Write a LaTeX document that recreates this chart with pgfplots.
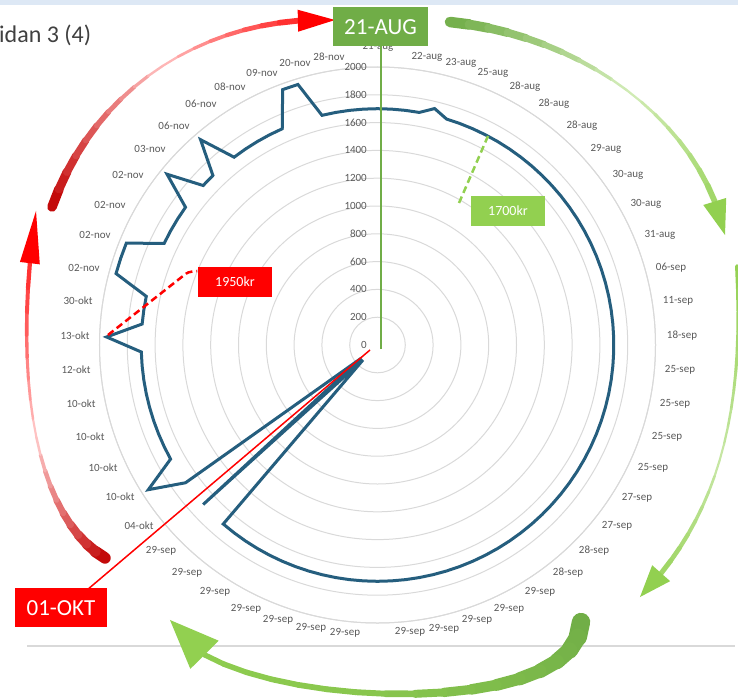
\documentclass[border=0pt]{standalone}
\usepackage{pgfplots}
\usepackage{pgfplotstable}
\pgfplotsset{compat=1.18}
\usepgfplotslibrary{polar}
\usetikzlibrary{arrows.meta,calc}
\usepackage{fontspec}
\setmainfont{Carlito}

\definecolor{lineblue}{RGB}{37,94,126}
\definecolor{gridgray}{RGB}{217,217,217}
\definecolor{txtgray}{RGB}{89,89,89}
\definecolor{dgreen}{RGB}{112,173,71}
\definecolor{lgreen}{RGB}{146,208,80}
\definecolor{dred}{RGB}{192,0,0}
\definecolor{band}{RGB}{221,232,245}
\colorlet{midredA}{red!25}
\colorlet{midredB}{red!20}
\colorlet{midgreenA}{lgreen!40}
\colorlet{midgreenB}{lgreen!50}
\colorlet{midgreenC}{lgreen!70!dgreen}

% sample a bezier into q0..q20
\newcommand\sample[4]{\path #1 .. controls #2 and #3 .. #4
  \foreach \t [evaluate=\t as \p using \t*0.05] in {0,...,20}{coordinate[pos=\p] (q\t)};}
% tapered stroke along q0..q#7: widths #1/#2/#3, colours #4/#5/#6
\newcommand\taper[7]{%
  \foreach \t [remember=\t as \s (initially 0)] in {1,...,#7}{%
    \ifnum\t<11
      \pgfmathsetmacro\w{#1+(#2-#1)*(\t-0.5)/10}%
      \pgfmathsetmacro\m{100-(\t-0.5)*10}%
      \draw[line width=\w pt,color=#4!\m!#5,line cap=round] (q\s) -- (q\t);
    \else
      \pgfmathsetmacro\w{#2+(#3-#2)*(\t-10.5)/10}%
      \pgfmathsetmacro\m{100-(\t-10.5)*10}%
      \draw[line width=\w pt,color=#5!\m!#6,line cap=round] (q\s) -- (q\t);
    \fi}}

% radar values, 106 points clockwise from 21-aug (only every other one is labelled)
\pgfplotstableread{
k v
0 1700
1 1700
2 1700
3 1700
4 1750
5 1700
6 1700
7 1700
8 1700
9 1700
10 1700
11 1700
12 1700
13 1700
14 1700
15 1700
16 1700
17 1700
18 1700
19 1700
20 1700
21 1700
22 1700
23 1700
24 1700
25 1700
26 1700
27 1700
28 1700
29 1700
30 1700
31 1700
32 1700
33 1700
34 1700
35 1700
36 1700
37 1700
38 1700
39 1700
40 1700
41 1700
42 1700
43 1700
44 1700
45 1700
46 1700
47 1700
48 1700
49 1700
50 1700
51 1700
52 1700
53 1700
54 1700
55 1700
56 1700
57 1700
58 1700
59 1700
60 1700
61 1700
62 1700
63 1700
64 1700
65 1700
66 150
67 1700
68 150
69 1700
70 1950
71 1700
72 1700
73 1700
74 1700
75 1700
76 1700
77 1700
78 1700
79 1700
80 1950
81 1700
82 1700
83 1700
84 1950
85 1950
86 1950
87 1700
88 1700
89 1700
90 1700
91 1950
92 1700
93 1700
94 1950
95 1700
96 1700
97 1700
98 1700
99 1700
100 1960
101 1960
102 1700
103 1700
104 1700
105 1700
106 1700
}\radar

\begin{document}
\begin{tikzpicture}[font=\fontsize{11}{13}\selectfont]
% background decorations, pixel coordinates (y down)
\begin{scope}[x=1pt,y=-1pt]
\path[use as bounding box] (0,0) rectangle (738,700);
\fill[band] (0,0) rectangle (738,5);
\node[anchor=base west,inner sep=0pt,text=black!75,font=\fontsize{24}{28}\selectfont] at (-1,43) {idan 3 (4)};
\draw[gridgray,line width=1.5] (27,646) -- (735,646);
% cycle arrows
\sample{(52,207)}{(95,85)}{(210,15)}{(335,20)}
\taper{10}{2}{7}{dred}{midredA}{red}{18}
\fill[red] (q20) -- ($(q18)!11pt!90:(q20)$) -- ($(q18)!11pt!-90:(q20)$) -- cycle;
\sample{(105,558)}{(40,520)}{(10,390)}{(36,211)}
\taper{12}{2}{5}{dred}{midredB}{red}{18}
\fill[red] (q20) -- ($(q18)!10pt!90:(q20)$) -- ($(q18)!10pt!-90:(q20)$) -- cycle;
\sample{(450,22)}{(580,35)}{(700,120)}{(725,235)}
\taper{11}{2}{7}{dgreen}{midgreenA}{lgreen}{18}
\fill[lgreen] (q20) -- ($(q18)!12pt!90:(q20)$) -- ($(q18)!12pt!-90:(q20)$) -- cycle;
\sample{(737,266)}{(745,420)}{(715,520)}{(640,597)}
\taper{4}{2}{6}{lgreen}{midgreenB}{lgreen}{18}
\fill[lgreen] (q20) -- ($(q18)!12pt!90:(q20)$) -- ($(q18)!12pt!-90:(q20)$) -- cycle;
\sample{(581,622)}{(578,728)}{(200,708)}{(170,620)}
\taper{19}{6}{5}{dgreen}{midgreenC}{lgreen}{17}
\fill[lgreen] (q20) -- ($(q17)!20pt!90:(q20)$) -- ($(q17)!20pt!-90:(q20)$) -- cycle;
\end{scope}

\begin{polaraxis}[
  at={(377.5pt,-345pt)}, anchor=origin,
  scale only axis, width=556pt, height=556pt,
  xmin=0, xmax=360, ymin=0, ymax=2000,
  xtick=\empty, ytick={0,200,...,2000}, yticklabels=\empty,
  ymajorgrids, major tick length=0pt,
  grid style={gridgray,line width=1pt},
  x axis line style={gridgray,line width=1pt},
  y axis line style={draw=none},
  clip=false,
]
\addplot[lineblue,line width=3pt,line join=miter] table[x expr=90-\thisrow{k}*3.396226, y=v] {\radar};
\end{polaraxis}

\begin{scope}[x=1pt,y=-1pt]
% radial tick labels
\foreach \v in {0,200,...,2000}
  \node[anchor=east,text=txtgray,inner sep=1pt] at (368,{345-\v*0.139}) {\v};
% category labels, placed where the reference sets them
\foreach \x/\y/\lab in {378/47/21-aug,427/57/22-aug,461/63/23-aug,493/73/25-aug,525/87/28-aug,554/104/28-aug,582/126/28-aug,606/149/29-aug,628/175/30-aug,646/204/30-aug,660/235/31-aug,671/268/06-sep,678/301/11-sep,682/336/18-sep,680/370/25-sep,675/404/25-sep,667/437/25-sep,653/468/25-sep,637/498/27-sep,617/526/27-sep,594/551/28-sep,568/573/28-sep,540/592/29-sep,509/609/29-sep,477/620/29-sep,444/629/29-sep,410/632/29-sep,345/633/29-sep,311/628/29-sep,278/620/29-sep,246/609/29-sep,215/592/29-sep,187/573/29-sep,161/551/29-sep,139/526/04-okt,120/497/10-okt,103/468/10-okt,90/437/10-okt,81/404/10-okt,76/370/12-okt,75/336/13-okt,78/301/30-okt,84/268/02-nov,95/235/02-nov,110/205/02-nov,128/175/02-nov,150/149/03-nov,174/126/06-nov,201/104/06-nov,230/87/08-nov,262/73/09-nov,295/63/20-nov,329/57/28-nov}
  \node[text=txtgray,inner sep=1pt] at (\x,\y) {\lab};
% markers
\draw[dgreen,line width=2] (381,349) -- (381,46);
\draw[red,line width=1.5] (370,350) -- (87,590);
\draw[lgreen,line width=2.5,dash pattern=on 7pt off 4pt] (488,136) -- (459,203);
\draw[red,line width=2.5,dash pattern=on 7pt off 4pt] (108,335) -- (183,276) .. controls (188,272) .. (197,271);
\fill[dgreen] (333,7) rectangle (428,46);
\node[text=white,font=\fontsize{23}{26}\selectfont] at (380.5,27) {21-AUG};
\fill[red] (15,588) rectangle (107,627);
\node[text=white,font=\fontsize{23}{26}\selectfont] at (61,608) {01-OKT};
\fill[lgreen] (471,196) rectangle (545,226);
\node[text=white,font=\fontsize{14}{16}\selectfont] at (508,211) {1700kr};
\fill[red] (198,267) rectangle (272,297);
\node[text=white,font=\fontsize{14}{16}\selectfont] at (235,282) {1950kr};
\end{scope}
\end{tikzpicture}
\end{document}
